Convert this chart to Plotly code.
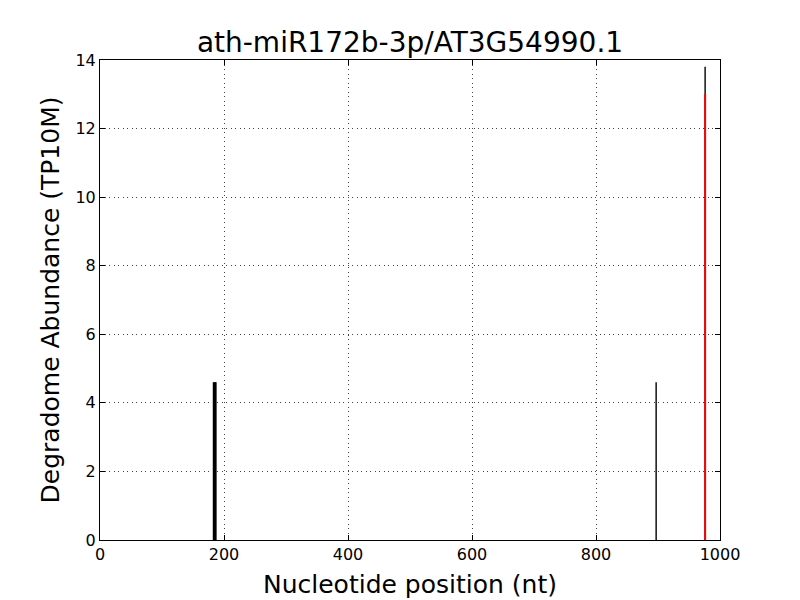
import plotly.graph_objects as go

# Degradome peaks (black)
peak_positions = [183, 184, 185, 186, 187, 897, 976]
peak_values = [4.6, 4.6, 4.6, 4.6, 4.6, 4.6, 13.8]

# miRNA target site (red)
target_positions = [976]
target_values = [13.0]

x_ticks = [0, 200, 400, 600, 800, 1000]
y_ticks = [0, 2, 4, 6, 8, 10, 12, 14]


def segs(xs, ys):
    sx, sy = [], []
    for x, y in zip(xs, ys):
        sx += [x, x, None]
        sy += [0, y, None]
    return sx, sy


bx, by = segs(peak_positions, peak_values)
rx, ry = segs(target_positions, target_values)

fig = go.Figure()
fig.add_trace(go.Scatter(x=bx, y=by, mode="lines",
                         line=dict(color="black", width=1.4),
                         hoverinfo="skip", showlegend=False))
fig.add_trace(go.Scatter(x=rx, y=ry, mode="lines",
                         line=dict(color="red", width=2),
                         hoverinfo="skip", showlegend=False))

font = "DejaVu Sans"
axis_common = dict(
    showline=True, linecolor="black", linewidth=1, mirror="ticks",
    ticks="inside", ticklen=5, tickcolor="black", tickwidth=1,
    showgrid=True, gridcolor="#444444", gridwidth=1, griddash="1px,3.5px",
    zeroline=False, automargin=False,
    tickfont=dict(family=font, size=16, color="black"),
)

# page body has an 8px margin, so the figure is shrunk by 8px to fit 800x600
fig.update_layout(
    width=792, height=592,
    paper_bgcolor="white", plot_bgcolor="white",
    margin=dict(l=92, r=80, t=52, b=60),
    title=dict(text="ath-miR172b-3p/AT3G54990.1", x=0.5, xanchor="center",
               xref="paper", y=0.925, yref="container", yanchor="bottom",
               font=dict(family=font, size=28, color="black")),
    xaxis=dict(range=[0, 1000], tickvals=x_ticks,
               title=dict(text="Nucleotide position (nt)", standoff=12,
                          font=dict(family=font, size=25, color="black")),
               **axis_common),
    yaxis=dict(range=[0, 14], tickvals=y_ticks,
               title=dict(text="Degradome Abundance (TP10M)", standoff=8,
                          font=dict(family=font, size=25, color="black")),
               **axis_common),
)

fig.write_html("out.html")
